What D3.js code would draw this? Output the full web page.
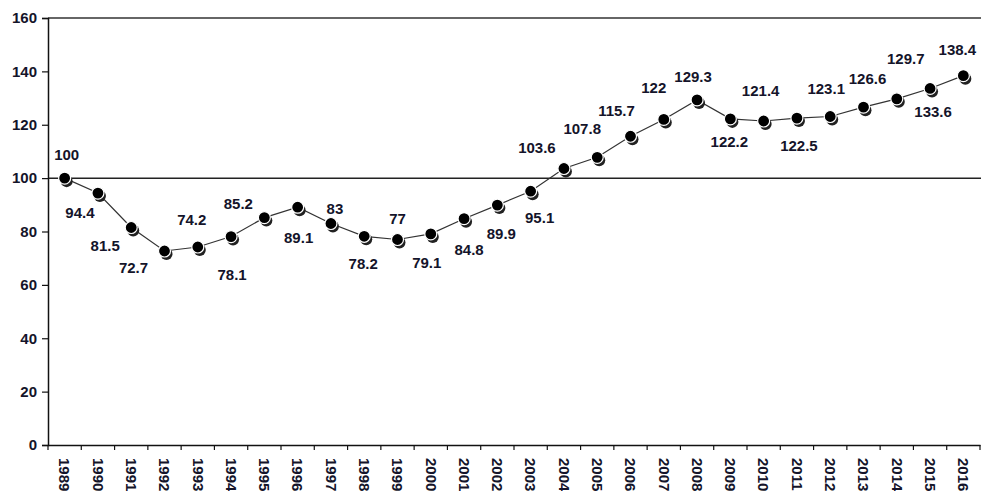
<!DOCTYPE html>
<html><head><meta charset="utf-8">
<script src="https://cdn.jsdelivr.net/npm/d3@7"></script>
<style>
body{margin:0;background:#fff;}
svg{display:block;font-family:"Liberation Sans",Arial,sans-serif;font-weight:bold;}
</style></head>
<body><svg id="c" width="981" height="491"></svg>
<script>
const years = ["1989","1990","1991","1992","1993","1994","1995","1996","1997","1998","1999","2000","2001","2002","2003","2004","2005","2006","2007","2008","2009","2010","2011","2012","2013","2014","2015","2016"];
const values = [100,94.4,81.5,72.7,74.2,78.1,85.2,89.1,83,78.2,77,79.1,84.8,89.9,95.1,103.6,107.8,115.7,122,129.3,122.2,121.4,122.5,123.1,126.6,129.7,133.6,138.4];
const yTicks = [0,20,40,60,80,100,120,140,160];
const refValue = 100;
// label offsets (px) relative to each point: [dx, dy of text centre]
const labelOffsets = [[2,-23],[-18,20],[-26,18],[-31,17],[-6,-27],[1,38],[-26,-14],[1,31],[4,-15],[-1,27],[0,-21],[-4,29],[5,31],[4,29],[9,27],[-27,-21],[-15,-29],[-14,-25],[-10,-32],[-4,-23],[-1,23],[-3,-30],[2,28],[-4,-28],[4,-28],[9,-40],[3,23],[-6,-26]];

(function(){
const svg = d3.select("#c");
const mL = 48, mR = 980, mT = 18, mB = 445;
const x = d3.scaleBand().domain(years).range([mL, mR]).padding(0);
const y = d3.scaleLinear().domain([0,160]).range([mB, mT]);
const ink = "#14142a";

svg.append("line").attr("x1",mL).attr("x2",981).attr("y1",y(160)).attr("y2",y(160))
  .attr("stroke","#333").attr("stroke-width",1.5);
svg.append("line").attr("x1",mL).attr("x2",981).attr("y1",y(refValue)).attr("y2",y(refValue))
  .attr("stroke","#222").attr("stroke-width",1.5);

const yAxis = svg.append("g").attr("transform",`translate(${mL},0)`)
  .call(d3.axisLeft(y).tickValues(yTicks).tickSize(6).tickPadding(5).tickFormat(d3.format("d")));
yAxis.select(".domain").attr("stroke","#111").attr("stroke-width",1.5);
yAxis.selectAll(".tick line").attr("stroke","#111").attr("stroke-width",1.2);
yAxis.selectAll("text").attr("font-size",15).attr("font-weight","bold").attr("fill",ink)
  .attr("font-family","Liberation Sans, Arial, sans-serif");

const xAxis = svg.append("g").attr("transform",`translate(0,${mB})`)
  .call(d3.axisBottom(x).tickSize(0).tickSizeOuter(0));
xAxis.select(".domain").attr("stroke","#111").attr("stroke-width",1.5);
xAxis.selectAll(".tick text").attr("font-size",15).attr("font-weight","bold").attr("fill",ink)
  .attr("font-family","Liberation Sans, Arial, sans-serif")
  .attr("transform","rotate(90)").attr("text-anchor","start").attr("dy","0.35em").attr("x",13).attr("y",0);
svg.append("g").selectAll("line").data(years.concat(["end"])).join("line")
  .attr("x1",(d,i)=> i < years.length ? x(d) : mR).attr("x2",(d,i)=> i < years.length ? x(d) : mR)
  .attr("y1",mB).attr("y2",mB+5).attr("stroke","#111").attr("stroke-width",1.2);

const cx = (d,i) => x(years[i]) + x.bandwidth()/2;
svg.append("path").datum(values)
  .attr("d", d3.line().x((d,i)=>cx(d,i)).y(d=>y(d)))
  .attr("fill","none").attr("stroke","#333").attr("stroke-width",1.2);

svg.append("g").selectAll("circle").data(values).join("circle")
  .attr("cx",(d,i)=>cx(d,i)+2).attr("cy",d=>y(d)+3).attr("r",6).attr("fill","#222");
svg.append("g").selectAll("circle").data(values).join("circle")
  .attr("cx",(d,i)=>cx(d,i)).attr("cy",d=>y(d)).attr("r",6).attr("fill","#000")
  .attr("stroke","#fff").attr("stroke-width",1.2);

svg.append("g").selectAll("text").data(values).join("text")
  .attr("x",(d,i)=>cx(d,i)+labelOffsets[i][0])
  .attr("y",(d,i)=>y(d)+labelOffsets[i][1])
  .attr("dy","0.35em").attr("text-anchor","middle")
  .attr("font-size",15).attr("font-weight","bold").attr("fill",ink)
  .text(d=>d);
})();
</script></body></html>
